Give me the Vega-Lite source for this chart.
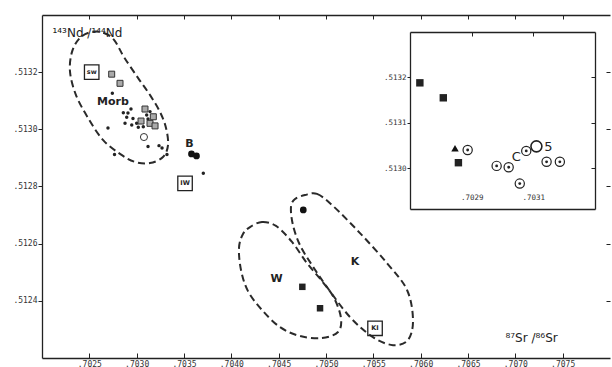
{
  "$schema": "https://vega.github.io/schema/vega-lite/v6.json",
  "width": 568,
  "height": 343,
  "autosize": {"type": "none"},
  "padding": {"left": 42, "top": 15, "right": 2, "bottom": 9},
  "background": "white",
  "config": {
    "view": {"stroke": null},
    "axis": {"grid": false, "domainColor": "#222", "tickColor": "#222", "labelColor": "#333", "labelFont": "DejaVu Sans Mono", "labelFontSize": 8, "domainWidth": 1.3, "tickWidth": 1}
  },
  "datasets": {
    "ellipses": [
      {"g": "MORB", "i": 1, "x": 0.702528, "y": 0.513341},
      {"g": "MORB", "i": 2, "x": 0.702655, "y": 0.513337},
      {"g": "MORB", "i": 3, "x": 0.702761, "y": 0.513313},
      {"g": "MORB", "i": 4, "x": 0.702866, "y": 0.513253},
      {"g": "MORB", "i": 5, "x": 0.703014, "y": 0.51318},
      {"g": "MORB", "i": 6, "x": 0.703141, "y": 0.51312},
      {"g": "MORB", "i": 7, "x": 0.703246, "y": 0.513061},
      {"g": "MORB", "i": 8, "x": 0.70331, "y": 0.513005},
      {"g": "MORB", "i": 9, "x": 0.703331, "y": 0.512945},
      {"g": "MORB", "i": 10, "x": 0.703278, "y": 0.512903},
      {"g": "MORB", "i": 11, "x": 0.703141, "y": 0.512882},
      {"g": "MORB", "i": 12, "x": 0.702982, "y": 0.512886},
      {"g": "MORB", "i": 13, "x": 0.702824, "y": 0.512914},
      {"g": "MORB", "i": 14, "x": 0.702644, "y": 0.512963},
      {"g": "MORB", "i": 15, "x": 0.702486, "y": 0.51304},
      {"g": "MORB", "i": 16, "x": 0.702359, "y": 0.51312},
      {"g": "MORB", "i": 17, "x": 0.702296, "y": 0.513201},
      {"g": "MORB", "i": 18, "x": 0.702317, "y": 0.513271},
      {"g": "MORB", "i": 19, "x": 0.702401, "y": 0.51332},
      {"g": "W", "i": 1, "x": 0.704197, "y": 0.512658},
      {"g": "W", "i": 2, "x": 0.704324, "y": 0.512676},
      {"g": "W", "i": 3, "x": 0.704472, "y": 0.512662},
      {"g": "W", "i": 4, "x": 0.704641, "y": 0.512606},
      {"g": "W", "i": 5, "x": 0.704799, "y": 0.512532},
      {"g": "W", "i": 6, "x": 0.704958, "y": 0.512469},
      {"g": "W", "i": 7, "x": 0.705085, "y": 0.51241},
      {"g": "W", "i": 8, "x": 0.705158, "y": 0.51234},
      {"g": "W", "i": 9, "x": 0.705127, "y": 0.512291},
      {"g": "W", "i": 10, "x": 0.704958, "y": 0.51227},
      {"g": "W", "i": 11, "x": 0.704725, "y": 0.512277},
      {"g": "W", "i": 12, "x": 0.704514, "y": 0.512308},
      {"g": "W", "i": 13, "x": 0.704324, "y": 0.512368},
      {"g": "W", "i": 14, "x": 0.704176, "y": 0.512434},
      {"g": "W", "i": 15, "x": 0.704102, "y": 0.512508},
      {"g": "W", "i": 16, "x": 0.704081, "y": 0.512585},
      {"g": "W", "i": 17, "x": 0.704123, "y": 0.512634},
      {"g": "K", "i": 1, "x": 0.704778, "y": 0.51277},
      {"g": "K", "i": 2, "x": 0.704905, "y": 0.512774},
      {"g": "K", "i": 3, "x": 0.705074, "y": 0.512732},
      {"g": "K", "i": 4, "x": 0.705359, "y": 0.512637},
      {"g": "K", "i": 5, "x": 0.705644, "y": 0.512532},
      {"g": "K", "i": 6, "x": 0.705856, "y": 0.512438},
      {"g": "K", "i": 7, "x": 0.705919, "y": 0.512333},
      {"g": "K", "i": 8, "x": 0.705866, "y": 0.512263},
      {"g": "K", "i": 9, "x": 0.705708, "y": 0.512245},
      {"g": "K", "i": 10, "x": 0.705496, "y": 0.512273},
      {"g": "K", "i": 11, "x": 0.705254, "y": 0.512343},
      {"g": "K", "i": 12, "x": 0.705011, "y": 0.512448},
      {"g": "K", "i": 13, "x": 0.704852, "y": 0.512525},
      {"g": "K", "i": 14, "x": 0.704725, "y": 0.512595},
      {"g": "K", "i": 15, "x": 0.704651, "y": 0.512665},
      {"g": "K", "i": 16, "x": 0.70463, "y": 0.512728},
      {"g": "K", "i": 17, "x": 0.704673, "y": 0.512756}
    ],
    "mainPts": [
      {"type": "dot", "x": 0.702743, "y": 0.513126},
      {"type": "dot", "x": 0.70294, "y": 0.513071},
      {"type": "dot", "x": 0.702859, "y": 0.513058},
      {"type": "dot", "x": 0.702895, "y": 0.513042},
      {"type": "dot", "x": 0.702877, "y": 0.513021},
      {"type": "dot", "x": 0.702697, "y": 0.513005},
      {"type": "dot", "x": 0.702948, "y": 0.513015},
      {"type": "dot", "x": 0.703, "y": 0.513021},
      {"type": "dot", "x": 0.703035, "y": 0.513033},
      {"type": "dot", "x": 0.703106, "y": 0.51305},
      {"type": "dot", "x": 0.703141, "y": 0.513062},
      {"type": "dot", "x": 0.70307, "y": 0.513009},
      {"type": "dot", "x": 0.703017, "y": 0.513007},
      {"type": "dot", "x": 0.70312, "y": 0.51294},
      {"type": "dot", "x": 0.703236, "y": 0.512943},
      {"type": "dot", "x": 0.703268, "y": 0.512935},
      {"type": "dot", "x": 0.70332, "y": 0.512912},
      {"type": "dot", "x": 0.702766, "y": 0.512912},
      {"type": "dot", "x": 0.703704, "y": 0.512846},
      {"type": "dot", "x": 0.702908, "y": 0.513057},
      {"type": "dot", "x": 0.702961, "y": 0.513038},
      {"type": "dot", "x": 0.70312, "y": 0.513036},
      {"type": "box", "x": 0.702736, "y": 0.513193},
      {"type": "box", "x": 0.702824, "y": 0.513161},
      {"type": "box", "x": 0.703176, "y": 0.513044},
      {"type": "box", "x": 0.703141, "y": 0.513021},
      {"type": "box", "x": 0.703194, "y": 0.513012},
      {"type": "box", "x": 0.703088, "y": 0.513071},
      {"type": "box", "x": 0.703046, "y": 0.513029},
      {"type": "circlex", "x": 0.703077, "y": 0.512973},
      {"type": "bigdot", "x": 0.703579, "y": 0.512914},
      {"type": "bigdot", "x": 0.703632, "y": 0.512907},
      {"type": "bigdot", "x": 0.70476, "y": 0.512718},
      {"type": "darksq", "x": 0.70475, "y": 0.512449},
      {"type": "darksq", "x": 0.704937, "y": 0.512374}
    ],
    "mainBoxes": [
      {"label": "sw", "x": 0.702525, "y": 0.5132},
      {"label": "IW", "x": 0.703511, "y": 0.512811},
      {"label": "KI", "x": 0.705518, "y": 0.512304}
    ],
    "mainLabels": [
      {"label": "Morb", "x": 0.70275, "y": 0.513097},
      {"label": "B", "x": 0.703558, "y": 0.512949},
      {"label": "W", "x": 0.704479, "y": 0.512475},
      {"label": "K", "x": 0.705306, "y": 0.512537}
    ],
    "insetPts": [
      {"type": "sq", "x": 0.702732, "y": 0.513188},
      {"type": "sq", "x": 0.702808, "y": 0.513155},
      {"type": "sq", "x": 0.702857, "y": 0.513012},
      {"type": "tri", "x": 0.702846, "y": 0.513044},
      {"type": "cd", "x": 0.702887, "y": 0.51304},
      {"type": "cd", "x": 0.702981, "y": 0.513005},
      {"type": "cd", "x": 0.70302, "y": 0.513002},
      {"type": "cd", "x": 0.703077, "y": 0.513038},
      {"type": "cd", "x": 0.703143, "y": 0.513014},
      {"type": "cd", "x": 0.703186, "y": 0.513014},
      {"type": "cd", "x": 0.703056, "y": 0.512966},
      {"type": "O", "x": 0.70311, "y": 0.513048}
    ],
    "insetText": [
      {"label": "C", "x": 0.703045, "y": 0.513025},
      {"label": "5", "x": 0.703149, "y": 0.513046}
    ]
  },
  "layer": [
    {
      "layer": [
        {
          "data": {"name": "ellipses"},
          "mark": {"type": "line", "interpolate": "cardinal-closed", "strokeDash": [7, 4], "strokeWidth": 2, "color": "#2a2a2a"},
          "encoding": {
            "x": {"field": "x", "type": "quantitative", "scale": {"domain": [0.702, 0.708], "zero": false, "nice": false},
              "axis": {"orient": "bottom", "values": [0.7025, 0.703, 0.7035, 0.704, 0.7045, 0.705, 0.7055, 0.706, 0.7065, 0.707, 0.7075], "labelExpr": "replace(format(datum.value, '.4f'), '0.', '.')", "tickSize": -5, "labelPadding": 7, "title": "⁸⁷Sr /⁸⁶Sr", "titleX": 463, "titleY": -21, "titleAlign": "left", "titleBaseline": "middle", "titleFont": "DejaVu Sans", "titleFontSize": 12, "titleFontWeight": "normal", "titleColor": "#222"}},
            "y": {"field": "y", "type": "quantitative", "scale": {"domain": [0.5122, 0.5134], "zero": false, "nice": false},
              "axis": {"orient": "left", "values": [0.5124, 0.5126, 0.5128, 0.513, 0.5132], "labelExpr": "replace(format(datum.value, '.4f'), '0.', '.')", "tickSize": 4, "labelPadding": 1, "title": "¹⁴³Nd /¹⁴⁴Nd", "titleAngle": 0, "titleX": 10, "titleY": 17, "titleAlign": "left", "titleBaseline": "middle", "titleFont": "DejaVu Sans", "titleFontSize": 12, "titleFontWeight": "normal", "titleColor": "#222"}},
            "detail": {"field": "g"},
            "order": {"field": "i", "type": "quantitative"}
          }
        },
        {
          "data": {"name": "mainPts"},
          "transform": [{"filter": "datum.type === 'dot'"}],
          "mark": {"type": "point", "shape": "circle", "filled": true, "size": 12, "color": "#222", "opacity": 1},
          "encoding": {
            "x": {"field": "x", "type": "quantitative", "scale": {"domain": [0.702, 0.708], "zero": false, "nice": false}, "axis": null},
            "y": {"field": "y", "type": "quantitative", "scale": {"domain": [0.5122, 0.5134], "zero": false, "nice": false}, "axis": null}
          }
        },
        {
          "data": {"name": "mainPts"},
          "transform": [{"filter": "datum.type === 'box'"}],
          "mark": {"type": "point", "shape": "square", "filled": true, "size": 36, "fill": "#aaa", "stroke": "#333", "strokeWidth": 1, "opacity": 1},
          "encoding": {
            "x": {"field": "x", "type": "quantitative", "scale": {"domain": [0.702, 0.708], "zero": false, "nice": false}, "axis": null},
            "y": {"field": "y", "type": "quantitative", "scale": {"domain": [0.5122, 0.5134], "zero": false, "nice": false}, "axis": null}
          }
        },
        {
          "data": {"name": "mainPts"},
          "transform": [{"filter": "datum.type === 'circlex'"}],
          "mark": {"type": "point", "shape": "circle", "filled": false, "size": 50, "stroke": "#333", "strokeWidth": 1, "opacity": 1},
          "encoding": {
            "x": {"field": "x", "type": "quantitative", "scale": {"domain": [0.702, 0.708], "zero": false, "nice": false}, "axis": null},
            "y": {"field": "y", "type": "quantitative", "scale": {"domain": [0.5122, 0.5134], "zero": false, "nice": false}, "axis": null}
          }
        },
        {
          "data": {"name": "mainPts"},
          "transform": [{"filter": "datum.type === 'bigdot'"}],
          "mark": {"type": "point", "shape": "circle", "filled": true, "size": 45, "color": "#111", "opacity": 1},
          "encoding": {
            "x": {"field": "x", "type": "quantitative", "scale": {"domain": [0.702, 0.708], "zero": false, "nice": false}, "axis": null},
            "y": {"field": "y", "type": "quantitative", "scale": {"domain": [0.5122, 0.5134], "zero": false, "nice": false}, "axis": null}
          }
        },
        {
          "data": {"name": "mainPts"},
          "transform": [{"filter": "datum.type === 'darksq'"}],
          "mark": {"type": "point", "shape": "square", "filled": true, "size": 42, "color": "#222", "opacity": 1},
          "encoding": {
            "x": {"field": "x", "type": "quantitative", "scale": {"domain": [0.702, 0.708], "zero": false, "nice": false}, "axis": null},
            "y": {"field": "y", "type": "quantitative", "scale": {"domain": [0.5122, 0.5134], "zero": false, "nice": false}, "axis": null}
          }
        },
        {
          "data": {"name": "mainBoxes"},
          "mark": {"type": "point", "shape": "square", "filled": false, "size": 210, "stroke": "#222", "strokeWidth": 1.3, "opacity": 1},
          "encoding": {
            "x": {"field": "x", "type": "quantitative", "scale": {"domain": [0.702, 0.708], "zero": false, "nice": false}, "axis": null},
            "y": {"field": "y", "type": "quantitative", "scale": {"domain": [0.5122, 0.5134], "zero": false, "nice": false}, "axis": null}
          }
        },
        {
          "data": {"name": "mainBoxes"},
          "mark": {"type": "text", "font": "DejaVu Sans", "fontSize": 6.5, "fontWeight": "bold", "color": "#222", "baseline": "middle", "align": "center"},
          "encoding": {
            "x": {"field": "x", "type": "quantitative", "scale": {"domain": [0.702, 0.708], "zero": false, "nice": false}, "axis": null},
            "y": {"field": "y", "type": "quantitative", "scale": {"domain": [0.5122, 0.5134], "zero": false, "nice": false}, "axis": null},
            "text": {"field": "label"}
          }
        },
        {
          "data": {"name": "mainLabels"},
          "mark": {"type": "text", "font": "DejaVu Sans", "fontSize": 11, "fontWeight": "bold", "color": "#222", "baseline": "middle", "align": "center"},
          "encoding": {
            "x": {"field": "x", "type": "quantitative", "scale": {"domain": [0.702, 0.708], "zero": false, "nice": false},
              "axis": {"orient": "top", "values": [0.7025, 0.703, 0.7035, 0.704, 0.7045, 0.705, 0.7055, 0.706, 0.7065, 0.707, 0.7075], "labels": false, "tickSize": -4, "title": null}},
            "y": {"field": "y", "type": "quantitative", "scale": {"domain": [0.5122, 0.5134], "zero": false, "nice": false},
              "axis": {"orient": "right", "values": [0.5124, 0.5126, 0.5128, 0.513, 0.5132], "labels": false, "domain": false, "tickSize": -4, "title": null}},
            "text": {"field": "label"}
          }
        }
      ],
      "resolve": {"axis": {"x": "independent", "y": "independent"}}
    },
    {
      "layer": [
        {
          "data": {"name": "insetPts"},
          "transform": [{"filter": "datum.type === 'cd'"}],
          "mark": {"type": "point", "shape": "circle", "filled": false, "size": 85, "stroke": "#222", "strokeWidth": 1.2, "opacity": 1},
          "encoding": {
            "x": {"field": "x", "type": "quantitative", "scale": {"domain": [0.7027, 0.7033], "range": [368, 553], "zero": false, "nice": false},
              "axis": {"orient": "bottom", "offset": -149, "values": [0.7029, 0.7031], "labelExpr": "replace(format(datum.value, '.4f'), '0.', '.')", "ticks": false, "labelPadding": -8, "labelBaseline": "bottom", "labelFontSize": 7.5, "title": null}},
            "y": {"field": "y", "type": "quantitative", "scale": {"domain": [0.51291, 0.5133], "range": [194, 17], "zero": false, "nice": false},
              "axis": {"orient": "left", "offset": -368, "values": [0.513, 0.5131, 0.5132], "labelExpr": "replace(format(datum.value, '.4f'), '0.', '.')", "tickSize": 3, "labelPadding": 1, "labelFontSize": 7.5, "title": null}}
          }
        },
        {
          "data": {"name": "insetPts"},
          "transform": [{"filter": "datum.type === 'cd'"}],
          "mark": {"type": "point", "shape": "circle", "filled": true, "size": 8, "color": "#222", "opacity": 1},
          "encoding": {
            "x": {"field": "x", "type": "quantitative", "scale": {"domain": [0.7027, 0.7033], "range": [368, 553], "zero": false, "nice": false}, "axis": null},
            "y": {"field": "y", "type": "quantitative", "scale": {"domain": [0.51291, 0.5133], "range": [194, 17], "zero": false, "nice": false}, "axis": null}
          }
        },
        {
          "data": {"name": "insetPts"},
          "transform": [{"filter": "datum.type === 'sq'"}],
          "mark": {"type": "point", "shape": "square", "filled": true, "size": 55, "color": "#222", "opacity": 1},
          "encoding": {
            "x": {"field": "x", "type": "quantitative", "scale": {"domain": [0.7027, 0.7033], "range": [368, 553], "zero": false, "nice": false}, "axis": null},
            "y": {"field": "y", "type": "quantitative", "scale": {"domain": [0.51291, 0.5133], "range": [194, 17], "zero": false, "nice": false}, "axis": null}
          }
        },
        {
          "data": {"name": "insetPts"},
          "transform": [{"filter": "datum.type === 'tri'"}],
          "mark": {"type": "point", "shape": "triangle-up", "filled": true, "size": 55, "color": "#111", "opacity": 1},
          "encoding": {
            "x": {"field": "x", "type": "quantitative", "scale": {"domain": [0.7027, 0.7033], "range": [368, 553], "zero": false, "nice": false}, "axis": null},
            "y": {"field": "y", "type": "quantitative", "scale": {"domain": [0.51291, 0.5133], "range": [194, 17], "zero": false, "nice": false}, "axis": null}
          }
        },
        {
          "data": {"name": "insetPts"},
          "transform": [{"filter": "datum.type === 'O'"}],
          "mark": {"type": "point", "shape": "circle", "filled": false, "size": 120, "stroke": "#222", "strokeWidth": 1.6, "opacity": 1},
          "encoding": {
            "x": {"field": "x", "type": "quantitative", "scale": {"domain": [0.7027, 0.7033], "range": [368, 553], "zero": false, "nice": false}, "axis": null},
            "y": {"field": "y", "type": "quantitative", "scale": {"domain": [0.51291, 0.5133], "range": [194, 17], "zero": false, "nice": false}, "axis": null}
          }
        },
        {
          "data": {"name": "insetText"},
          "mark": {"type": "text", "font": "DejaVu Sans", "fontSize": 13, "color": "#222", "baseline": "middle", "align": "center"},
          "encoding": {
            "x": {"field": "x", "type": "quantitative", "scale": {"domain": [0.7027, 0.7033], "range": [368, 553], "zero": false, "nice": false},
              "axis": {"orient": "top", "offset": -17, "values": [0.7029, 0.7031], "labels": false, "tickSize": -4, "title": null}},
            "y": {"field": "y", "type": "quantitative", "scale": {"domain": [0.51291, 0.5133], "range": [194, 17], "zero": false, "nice": false},
              "axis": {"orient": "right", "offset": -15, "values": [0.513, 0.5131, 0.5132], "labels": false, "tickSize": -4, "title": null}},
            "text": {"field": "label"}
          }
        }
      ],
      "resolve": {"axis": {"x": "independent", "y": "independent"}}
    }
  ],
  "resolve": {"scale": {"x": "independent", "y": "independent"}}
}
